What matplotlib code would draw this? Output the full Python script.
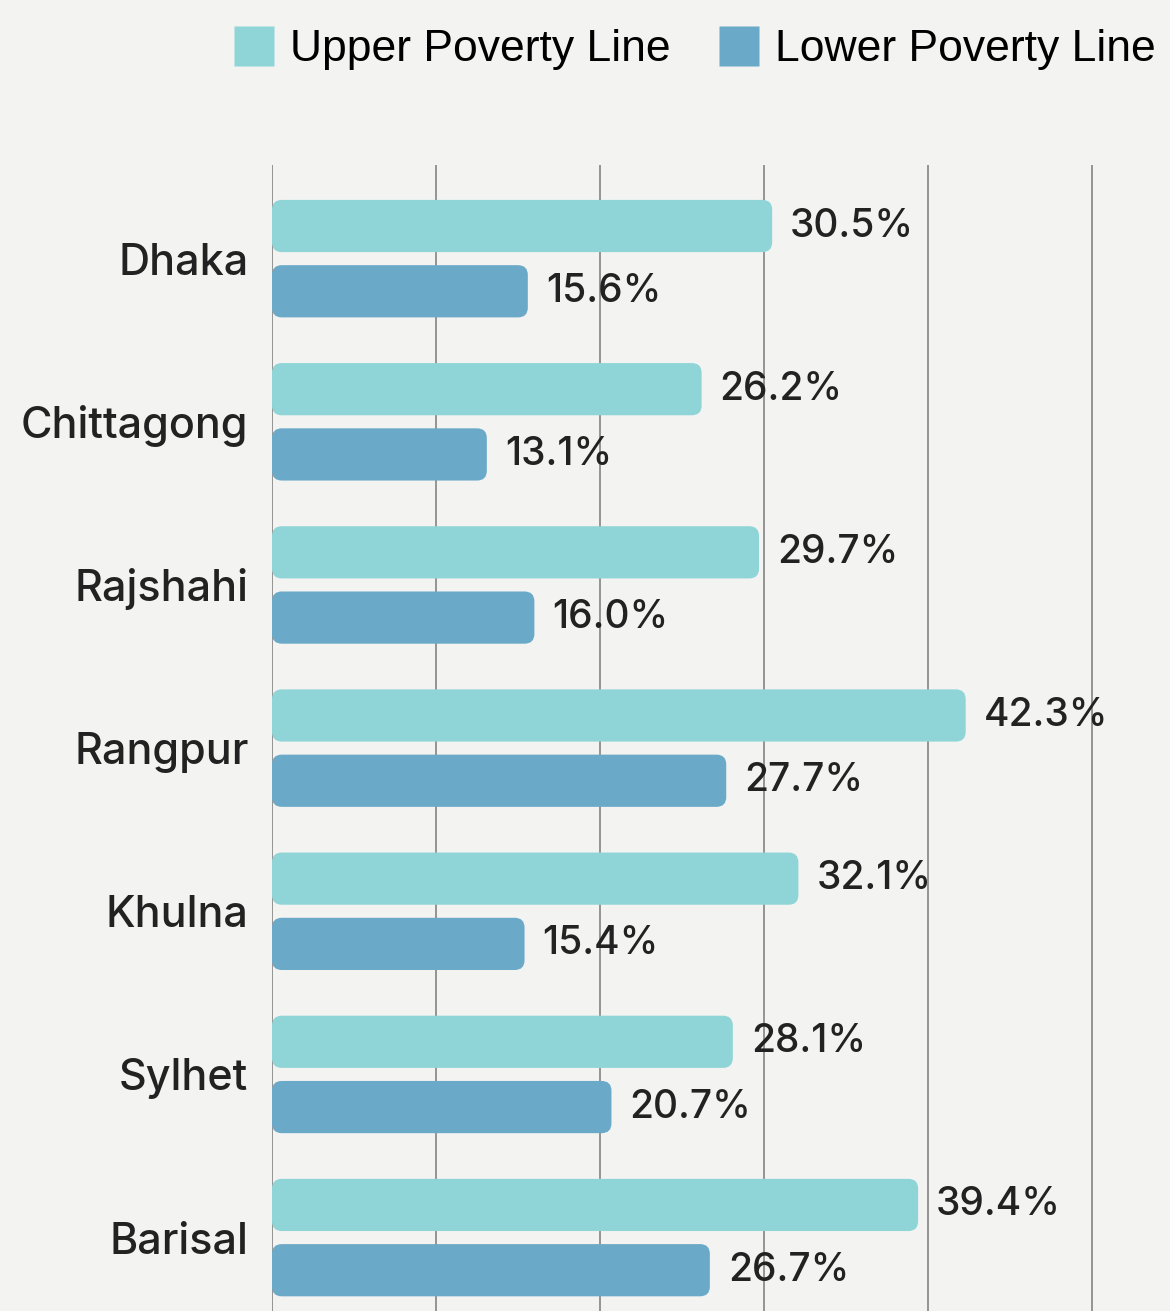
import matplotlib.pyplot as plt
from matplotlib.patches import FancyBboxPatch
from matplotlib.lines import Line2D

divisions = ["Dhaka", "Chittagong", "Rajshahi", "Rangpur", "Khulna", "Sylhet", "Barisal"]
upper = [30.5, 26.2, 29.7, 42.3, 32.1, 28.1, 39.4]
lower = [15.6, 13.1, 16.0, 27.7, 15.4, 20.7, 26.7]

UPPER_COLOR = "#8fd5d7"
LOWER_COLOR = "#6aa9c8"
BG = "#f3f3f2"

plt.rcParams["font.family"] = ["Inter", "DejaVu Sans"]

fig = plt.figure(figsize=(11.7, 13.11), dpi=100, facecolor=BG)
ax = fig.add_axes([272 / 1170, 0, 1 - 272 / 1170, 1 - 165 / 1311])
ax.set_facecolor(BG)

y = list(range(len(divisions)))
h = 0.32
off = 0.2

bars_u = ax.barh([i - off for i in y], upper, height=h, color=UPPER_COLOR, zorder=3)
bars_l = ax.barh([i + off for i in y], lower, height=h, color=LOWER_COLOR, zorder=3)

# swap the square bars for rounded ones
xlim = (0, 54.76)
ylim = (6.45, -0.574)
ax.set_xlim(*xlim)
ax.set_ylim(*ylim)
aspect = (abs(ylim[0] - ylim[1]) / 1146) / ((xlim[1] - xlim[0]) / 898)
for bars in (bars_u, bars_l):
    for b in bars:
        b.set_visible(False)
        r = FancyBboxPatch((b.get_x(), b.get_y()), b.get_width(), b.get_height(),
                           boxstyle="round,pad=0,rounding_size=0.6",
                           mutation_aspect=aspect, facecolor=b.get_facecolor(),
                           edgecolor="none", zorder=3)
        ax.add_patch(r)

for bars, vals in ((bars_u, upper), (bars_l, lower)):
    for b, v in zip(bars, vals):
        ax.annotate(f"{v:.1f}%", (b.get_width(), b.get_y() + b.get_height() / 2),
                    xytext=(13, 0), textcoords="offset points", va="center", ha="left",
                    fontsize=28, fontweight="medium", color="#222222", zorder=4)

ax.set_yticks(y)
ax.set_yticklabels(divisions, fontsize=31, fontweight="medium", color="#222222")
ax.tick_params(axis="y", length=0, pad=17)
ax.set_xticks(range(0, 60, 10))
ax.tick_params(axis="x", length=0, labelbottom=False)
ax.grid(axis="x", color="#8c8c8c", linewidth=1.3, zorder=1)
ax.set_axisbelow(True)
for s in ax.spines.values():
    s.set_visible(False)

handles = [Line2D([], [], marker="s", linestyle="none", markersize=29,
                  markerfacecolor=UPPER_COLOR, markeredgecolor="none"),
           Line2D([], [], marker="s", linestyle="none", markersize=29,
                  markerfacecolor=LOWER_COLOR, markeredgecolor="none")]
fig.legend(handles, ["Upper Poverty Line", "Lower Poverty Line"], loc="center",
           bbox_to_anchor=(0.594, 1 - 50 / 1311), ncol=2, frameon=False,
           prop={"family": "Liberation Sans", "size": 32},
           handlelength=0.9, handletextpad=0.35, columnspacing=1.1)

fig.savefig("out.png", dpi=100, facecolor=BG)
